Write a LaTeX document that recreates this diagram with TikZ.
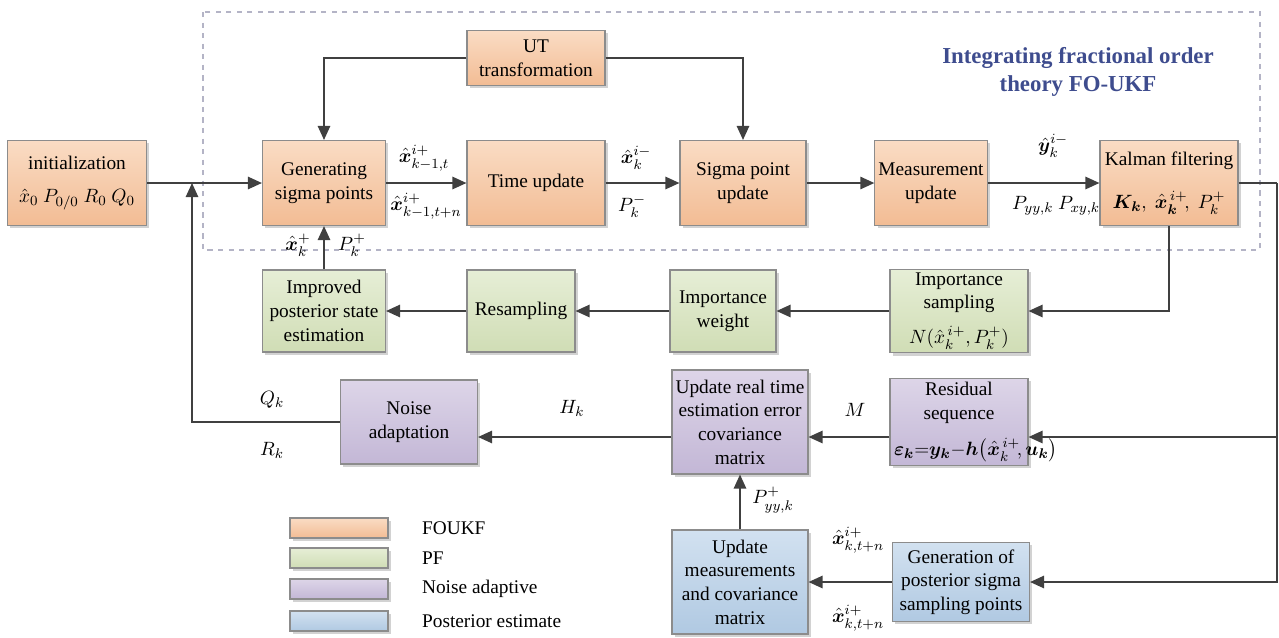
\documentclass[tikz,border=0pt]{standalone}
\usepackage{amsmath,amssymb,bm}
\usepackage{fontspec}
\setmainfont{Liberation Serif}
\usetikzlibrary{arrows.meta,shadows}

\definecolor{ukfT}{HTML}{FADCC4}
\definecolor{ukfB}{HTML}{F2BC94}
\definecolor{pfT}{HTML}{E6EED6}
\definecolor{pfB}{HTML}{D0DDB5}
\definecolor{naT}{HTML}{DDD5E8}
\definecolor{naB}{HTML}{C3B7D6}
\definecolor{peT}{HTML}{D2E1F0}
\definecolor{peB}{HTML}{B0C9E2}
\definecolor{boxline}{HTML}{8C8C8C}
\definecolor{wire}{HTML}{404040}
\definecolor{titleblue}{HTML}{3E4C8E}
\definecolor{dashgray}{HTML}{B4B4C6}

\begin{document}
\begin{tikzpicture}[x=0.02cm, y=-0.02cm, font=\fontsize{11}{13.5}\selectfont,
  >={Triangle[length=8pt,width=7pt]},
  blk/.style={draw=boxline, line width=0.6pt, align=center, inner sep=2pt,
    drop shadow={shadow xshift=1.5pt, shadow yshift=-1.5pt, fill=black!35, opacity=.5}},
  ukf/.style={blk, top color=ukfT, bottom color=ukfB},
  pf/.style={blk, top color=pfT, bottom color=pfB},
  nad/.style={blk, top color=naT, bottom color=naB},
  pest/.style={blk, top color=peT, bottom color=peB},
  lab/.style={inner sep=1pt},
  ln/.style={line width=1.1pt, wire}]
\useasboundingbox (0,0) rectangle (1279,637);

% frame of the FO-UKF part
\draw[dashgray, line width=0.6pt, dashed] (203,12) rectangle (1260,250);
\node[lab, text=titleblue, font=\fontsize{13}{16}\selectfont\bfseries, align=center] (ttl) at (1078,72)
  {Integrating fractional order\\theory FO-UKF};

% FOUKF blocks
\node[ukf, minimum width=2.78cm, minimum height=1.7cm] (init) at (77,183)
  {initialization\\[5pt] $\hat{x}_0\ P_{0/0}\ R_0\ Q_0$};
\node[ukf, minimum width=2.46cm, minimum height=1.7cm] (gen) at (324,183) {Generating\\sigma points};
\node[ukf, minimum width=2.76cm, minimum height=1.7cm] (tup) at (536,183) {Time update};
\node[ukf, minimum width=2.52cm, minimum height=1.7cm] (spu) at (743,183) {Sigma point\\update};
\node[ukf, minimum width=2.2cm, minimum height=1.7cm] (mup) at (931,183) {Measurement\\update};
\node[ukf, minimum width=2.76cm, minimum height=1.7cm] (kal) at (1169,183)
  {Kalman filtering\\[11pt] $\bm{K_k},\ \hat{\bm{x}}_{\bm{k}}^{\,i+}\!,\ P_k^{+}$};
\node[ukf, minimum width=2.76cm, minimum height=1.1cm] (ut) at (536,58) {UT\\transformation};

% PF blocks
\node[pf, minimum width=2.46cm, minimum height=1.64cm] (imp) at (324,311) {Improved\\posterior state\\estimation};
\node[pf, minimum width=2.16cm, minimum height=1.64cm] (res) at (521,311) {Resampling};
\node[pf, minimum width=2.12cm, minimum height=1.64cm] (iw) at (723,311) {Importance\\weight};
\node[pf, minimum width=2.76cm, minimum height=1.64cm] (isam) at (959,311)
  {Importance\\sampling\\[6pt]$N(\hat{x}_k^{\,i+},P_k^{+})$};

% noise adaptive blocks
\node[nad, minimum width=2.74cm, minimum height=1.68cm] (noise) at (409,422) {Noise\\adaptation};
\node[nad, minimum width=2.72cm, minimum height=2.08cm] (upd) at (740,422)
  {Update real time\\estimation error\\covariance\\matrix};
\node[nad, minimum width=2.76cm, minimum height=1.68cm, text width=2.6cm] (resid) at (959,422)
  {Residual\\sequence\\[7pt]$\bm{\varepsilon_k}{=}\bm{y_k}{-}\bm{h}\!\left(\hat{\bm{x}}_k^{\,i+}\!,\bm{u_k}\right)$};

% posterior estimate blocks
\node[pest, minimum width=2.72cm, minimum height=2.08cm] (umc) at (740,582)
  {Update\\measurements\\and covariance\\matrix};
\node[pest, minimum width=2.74cm, minimum height=1.58cm] (gps) at (961,582)
  {Generation of\\posterior sigma\\sampling points};

% legend
\node[ukf, minimum width=1.96cm, minimum height=0.4cm] (lg1) at (339,528) {};
\node[pf, minimum width=1.96cm, minimum height=0.4cm] (lg2) at (339,558) {};
\node[nad, minimum width=1.96cm, minimum height=0.4cm] (lg3) at (339,589) {};
\node[pest, minimum width=1.96cm, minimum height=0.4cm] (lg4) at (339,621) {};
\node[lab, anchor=west] at (420,528) {FOUKF};
\node[lab, anchor=west] at (420,558) {PF};
\node[lab, anchor=west] at (420,589) {Noise adaptive};
\node[lab, anchor=west] at (420,621) {Posterior estimate};

% connectors
\coordinate (fb) at (192,183);
\coordinate (rt) at (1277,183);
\draw[ln,->] (init.east) -- (gen.west);
\draw[ln,->] (gen.east) -- (tup.west);
\draw[ln,->] (tup.east) -- (spu.west);
\draw[ln,->] (spu.east) -- (mup.west);
\draw[ln,->] (mup.east) -- (kal.west);
\draw[ln,->] (ut.west) -| (gen.north);
\draw[ln,->] (ut.east) -| (spu.north);
\draw[ln,->] (kal.south) |- (isam.east);
\draw[ln,->] (isam.west) -- (iw.east);
\draw[ln,->] (iw.west) -- (res.east);
\draw[ln,->] (res.west) -- (imp.east);
\draw[ln,->] (imp.north) -- (gen.south);
\draw[ln] (kal.east) -- (rt);
\draw[ln,->] (rt) |- ([yshift=-0.3cm]resid.east);
\draw[ln,->] (rt) |- (gps.east);
\draw[ln,->] ([yshift=-0.3cm]resid.west) -- ([yshift=-0.3cm]upd.east);
\draw[ln,->] ([yshift=-0.3cm]upd.west) -- ([yshift=-0.3cm]noise.east);
\draw[ln,->] (umc.north) -- (upd.south);
\draw[ln,->] (gps.west) -- (umc.east);
\draw[ln,->] (noise.west) -| (fb);

% signal labels
\node[lab] (l1) at (424,158) {$\hat{\bm{x}}_{k-1,t}^{i+}$};
\node[lab] (l2) at (426,206) {$\hat{\bm{x}}_{k-1,t+n}^{i+}$};
\node[lab] (l3) at (636,158) {$\hat{\bm{x}}_k^{i-}$};
\node[lab] (l4) at (632,206) {$P_k^{-}$};
\node[lab] (l5) at (1053,146) {$\hat{\bm{y}}_k^{i-}$};
\node[lab] (l6) at (1056,206) {$P_{yy,k}\ P_{xy,k}$};
\node[lab] (l7) at (298,245) {$\hat{\bm{x}}_k^{+}$};
\node[lab] (l8) at (352,245) {$P_k^{+}$};
\node[lab] (l9) at (272,400) {$Q_k$};
\node[lab] (l10) at (272,450) {$R_k$};
\node[lab] (l11) at (572,408) {$H_k$};
\node[lab] (l12) at (855,410) {$M$};
\node[lab] (l13) at (773,500) {$P_{yy,k}^{+}$};
\node[lab] (l14) at (858,540) {$\hat{\bm{x}}_{k,t+n}^{i+}$};
\node[lab] (l15) at (858,618) {$\hat{\bm{x}}_{k,t+n}^{i+}$};
\end{tikzpicture}
\end{document}
